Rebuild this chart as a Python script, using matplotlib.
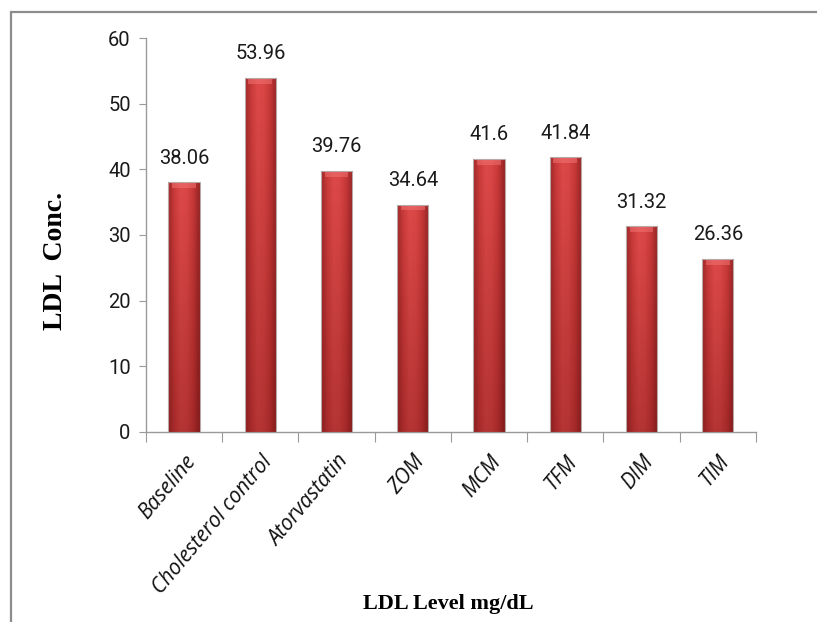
import numpy as np
import matplotlib
matplotlib.use("Agg")
import matplotlib.pyplot as plt
from matplotlib.colors import LinearSegmentedColormap
from matplotlib.patches import Rectangle

groups = ["Baseline", "Cholesterol control", "Atorvastatin", "ZOM", "MCM", "TFM", "DIM", "TIM"]
ldl = [38.06, 53.96, 39.76, 34.64, 41.6, 41.84, 31.32, 26.36]
value_text = ["38.06", "53.96", "39.76", "34.64", "41.6", "41.84", "31.32", "26.36"]
yticks = [0, 10, 20, 30, 40, 50, 60]

num_font = "Roboto"

fig = plt.figure(figsize=(8.17, 6.22), dpi=100)
ax = fig.add_axes([0.1787, 0.3055, 0.7466, 0.6334])

# outer frame line (left and top edges only visible)
fig.patches.append(Rectangle((11 / 817, -0.1), 1.2, 1 - 12 / 622 + 0.1,
                             transform=fig.transFigure, fill=False,
                             edgecolor="#8c8c8c", linewidth=1.6, zorder=0))

x = np.arange(len(groups))
width = 0.41
bars = ax.bar(x, ldl, width=width, color="#c93a3a", edgecolor="none", zorder=2)

# cylinder-like shading for every bar
shade = LinearSegmentedColormap.from_list(
    "bar_shade", ["#a02828", "#cc3c3c", "#de4a4a", "#da4646", "#c63838", "#962424"])
hx = np.linspace(0, 1, 64)
grad = np.tile(hx, (64, 1))
for b in bars:
    bx, by = b.get_x(), b.get_y()
    bw, bh = b.get_width(), b.get_height()
    im = ax.imshow(grad, extent=[bx, bx + bw, by, by + bh], cmap=shade,
                   aspect="auto", origin="lower", zorder=3)
    im.set_clip_path(b)
    # darker toward the base
    fade = np.linspace(0.28, 0, 64)[:, None] * np.ones((64, 64))
    rgba = np.zeros((64, 64, 4))
    rgba[..., 0] = 0.3
    rgba[..., 3] = fade
    im2 = ax.imshow(rgba, extent=[bx, bx + bw, by, by + bh], aspect="auto",
                    origin="lower", zorder=4)
    im2.set_clip_path(b)
    # bevel at top
    ax.add_patch(Rectangle((bx + bw * 0.12, by + bh - 0.9), bw * 0.76, 0.9,
                           facecolor="#f07272", edgecolor="none", alpha=0.55, zorder=5))
    ax.add_patch(Rectangle((bx, by), bw, bh, fill=False, edgecolor="#b8a8a8",
                           linewidth=0.8, zorder=6))

for xi, v, t in zip(x, ldl, value_text):
    ax.text(xi, v + 2.2, t, ha="center", va="bottom", fontsize=14.5,
            family=num_font, color="#1a1a1a")

ax.set_xlim(-0.5, len(groups) - 0.5)
ax.set_ylim(0, 60)
ax.set_yticks(yticks)
ax.set_yticklabels([str(t) for t in yticks], family=num_font, fontsize=14.5, color="#1a1a1a")
ax.set_xticks(np.arange(len(groups) + 1) - 0.5)
ax.set_xticklabels([])
ax.set_xticks(x, minor=True)
ax.set_xticklabels(groups, minor=True, rotation=50, ha="right", rotation_mode="anchor",
                   family="Open Sans", style="italic", fontsize=15, color="#111111")
ax.tick_params(axis="x", which="minor", length=0, pad=14)
ax.tick_params(axis="x", which="major", length=7, color="#9a9a9a", direction="out")
ax.tick_params(axis="y", length=5, color="#9a9a9a", pad=6)

for side in ["top", "right"]:
    ax.spines[side].set_visible(False)
for side in ["left", "bottom"]:
    ax.spines[side].set_color("#9a9a9a")
    ax.spines[side].set_linewidth(1.0)

fig.text(56 / 817, 1 - 261 / 622, "LDL  Conc.", rotation=90, ha="center", va="center",
         family="Liberation Serif", fontweight="bold", fontsize=20)
fig.text(448 / 817, 1 - 604 / 622, "LDL Level mg/dL", ha="center", va="center",
         family="Liberation Serif", fontweight="bold", fontsize=16)

fig.savefig("out.png", dpi=100)
